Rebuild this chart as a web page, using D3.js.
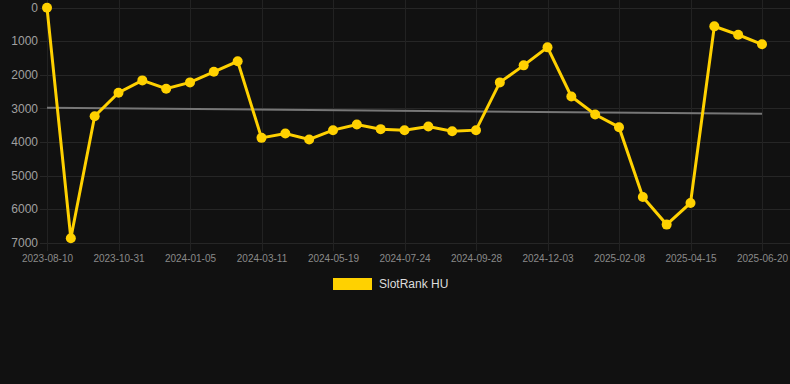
<!DOCTYPE html>
<html>
<head>
<meta charset="utf-8">
<script src="https://cdn.jsdelivr.net/npm/d3@7"></script>
<style>
  body { margin: 0; background: #111111; }
  svg { display: block; font-family: "Liberation Sans", Arial, sans-serif; }
</style>
</head>
<body>
<svg class="Chart"></svg>
<script>
/* Data */
const dates = [
  "2023-08-10", "2023-09-06", "2023-10-04", "2023-10-31", "2023-11-22", "2023-12-14",
  "2024-01-05", "2024-01-27", "2024-02-18", "2024-03-11", "2024-04-03", "2024-04-26",
  "2024-05-19", "2024-06-10", "2024-07-02", "2024-07-24", "2024-08-15", "2024-09-06",
  "2024-09-28", "2024-10-20", "2024-11-11", "2024-12-03", "2024-12-25", "2025-01-17",
  "2025-02-08", "2025-03-02", "2025-03-24", "2025-04-15", "2025-05-07", "2025-05-29",
  "2025-06-20"
];
const ranks = [
  10, 6860, 3230, 2535, 2167, 2416, 2226, 1910, 1600, 3875, 3745, 3923,
  3646, 3476, 3616, 3646, 3536, 3676, 3646, 2226, 1720, 1185, 2643, 3180,
  3557, 5631, 6453, 5810, 560, 810, 1095
];
const trend = [2980, 3160];
const yTicks = [0, 1000, 2000, 3000, 4000, 5000, 6000, 7000];
const seriesName = "SlotRank HU";

const width = 790;
const height = 384;
const margin = { left: 47, right: 28, top: 7.5, bottom: 141 };
const lineColor = "#ffd100";

const svg = d3.select('.Chart')
  .attr('width', width)
  .attr('height', height);

let x = d3.scalePoint()
  .domain(dates)
  .range([margin.left, width - margin.right]);

let y = d3.scaleLinear()
  .domain([0, 7000])
  .range([margin.top, height - margin.bottom]);

/* grid */
svg.append('g')
  .selectAll('line')
  .data(yTicks)
  .enter().append('line')
  .attr('x1', 40)
  .attr('x2', width)
  .attr('y1', d => Math.round(y(d)) + 0.5)
  .attr('y2', d => Math.round(y(d)) + 0.5)
  .attr('stroke', '#262626')
  .attr('stroke-width', 1);

let tickDates = dates.filter((d, i) => i % 3 === 0);

svg.append('g')
  .selectAll('line')
  .data(tickDates)
  .enter().append('line')
  .attr('x1', d => Math.round(x(d)) + 0.5)
  .attr('x2', d => Math.round(x(d)) + 0.5)
  .attr('y1', 0)
  .attr('y2', y(7000) + 8)
  .attr('stroke', '#222222')
  .attr('stroke-width', 1);

/* axes */
let yAxis = svg.append('g')
  .attr('transform', 'translate(38,0)')
  .call(d3.axisLeft(y).tickValues(yTicks).tickSize(0).tickPadding(0).tickFormat(d3.format('d')));
yAxis.select('.domain').remove();
yAxis.selectAll('text')
  .attr('fill', '#a0a0a0')
  .attr('font-size', 12)
  .attr('dy', '0.3em');

let xAxis = svg.append('g')
  .attr('transform', `translate(0,${y(7000) + 12})`)
  .call(d3.axisBottom(x).tickValues(tickDates).tickSize(0).tickPadding(0));
xAxis.select('.domain').remove();
xAxis.selectAll('text')
  .attr('fill', '#8a8a8a')
  .attr('font-size', 10)
  .attr('dy', '0.71em');

/* trend line */
svg.append('line')
  .attr('x1', x(dates[0]))
  .attr('x2', x(dates[dates.length - 1]))
  .attr('y1', y(trend[0]))
  .attr('y2', y(trend[1]))
  .attr('stroke', '#777777')
  .attr('stroke-width', 2);

/* series */
let line = d3.line()
  .x((d, i) => x(dates[i]))
  .y(d => y(d));

svg.append('path')
  .datum(ranks)
  .attr('d', line)
  .attr('fill', 'none')
  .attr('stroke', lineColor)
  .attr('stroke-width', 3)
  .attr('stroke-linejoin', 'miter');

svg.append('g')
  .selectAll('circle')
  .data(ranks)
  .enter().append('circle')
  .attr('cx', (d, i) => x(dates[i]))
  .attr('cy', d => y(d))
  .attr('r', 5)
  .attr('fill', lineColor);

/* legend */
let legend = svg.append('g')
  .attr('transform', 'translate(333,278)');
legend.append('rect')
  .attr('width', 39)
  .attr('height', 12)
  .attr('fill', lineColor);
legend.append('text')
  .attr('x', 46)
  .attr('y', 10)
  .attr('fill', '#dddddd')
  .attr('font-size', 12)
  .text(seriesName);
</script>
</body>
</html>
